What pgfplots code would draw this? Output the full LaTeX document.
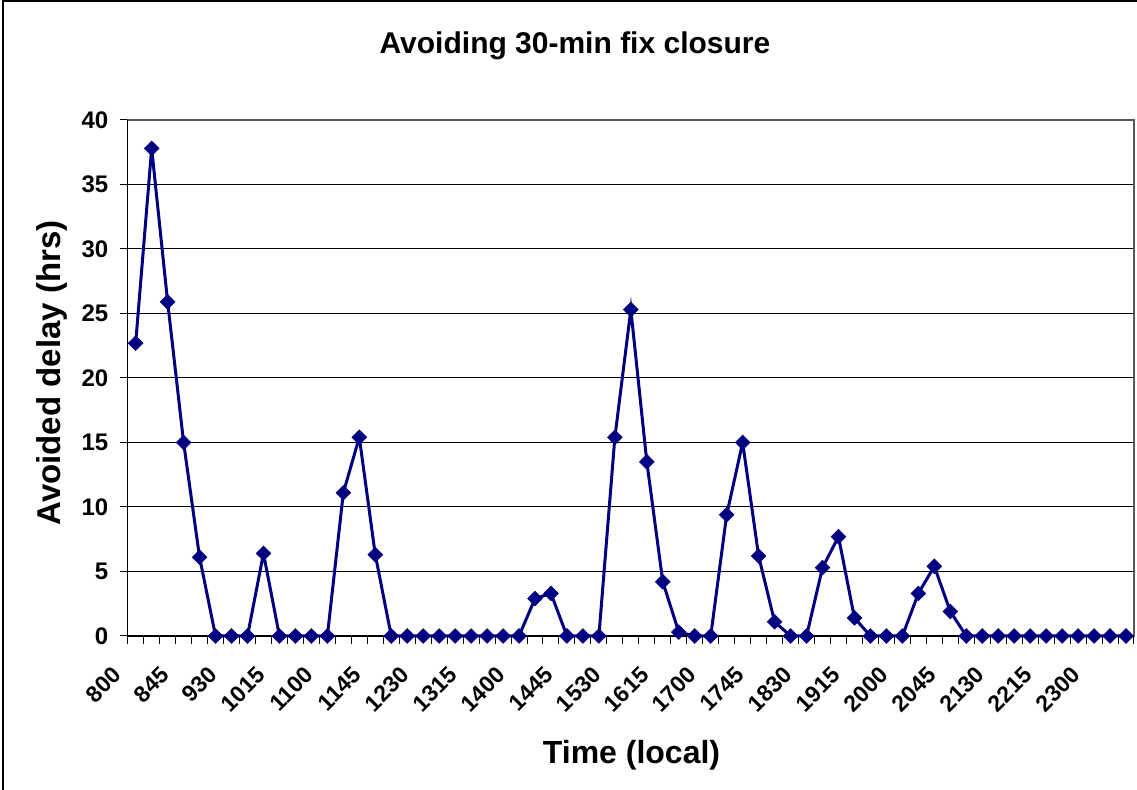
\documentclass[border=0pt]{standalone}
\usepackage{pgfplots}
\pgfplotsset{compat=1.18}
\usepackage{fontspec}
\setmainfont{Liberation Sans}
\definecolor{navyline}{RGB}{0,0,128}
\begin{document}
\begin{tikzpicture}
\useasboundingbox (0,0) rectangle (568.5pt,395pt);
\draw[black, line width=0.75pt] (1.5pt,0) -- (1.5pt,394.5pt) -- (568.5pt,394.5pt);
\begin{axis}[
  at={(63.85pt,77pt)}, anchor=south west,
  width=503.15pt, height=258pt, scale only axis,
  xmin=-0.5, xmax=62.5, ymin=0, ymax=40,
  xtick={0,3,...,60},
  xticklabels={800,845,930,1015,1100,1145,1230,1315,1400,1445,1530,1615,1700,1745,1830,1915,2000,2045,2130,2215,2300},
  minor xtick={-0.5,0.5,...,62.5},
  major x tick style={draw=none},
  minor x tick style={black, line width=0.5pt},
  minor tick length=4pt,
  ytick={0,5,...,40},
  major tick length=4pt,
  tick align=outside,
  y tick style={black, line width=0.5pt},
  xtick pos=bottom, ytick pos=left,
  ymajorgrids,
  grid style={black, line width=0.5pt},
  axis line style={draw=gray!70!black, line width=0.6pt},
  /pgf/number format/assume math mode=true,
  yticklabel style={font=\fontsize{12}{14}\selectfont\bfseries, anchor=east, inner sep=0pt, xshift=-5.5pt},
  xticklabel style={font=\fontsize{11.5}{13}\selectfont\bfseries, inner sep=0pt, xshift=-9pt, yshift=-13.5pt, rotate=45, anchor=east},
  clip=false,
]
\draw[black, line width=0.6pt] (axis cs:-0.5,40) -- (axis cs:-0.5,0) -- (axis cs:62.5,0);
\addplot[navyline, line width=1.5pt, mark=square*, mark size=2.6pt, mark options={rotate=45, solid, fill=navyline, draw=navyline, line width=0.3pt}]
coordinates {
(0,22.7) (1,37.8) (2,25.9) (3,15.0) (4,6.1) (5,0) (6,0) (7,0) (8,6.4) (9,0)
(10,0) (11,0) (12,0) (13,11.1) (14,15.4) (15,6.3) (16,0) (17,0) (18,0) (19,0)
(20,0) (21,0) (22,0) (23,0) (24,0) (25,2.9) (26,3.3) (27,0) (28,0) (29,0)
(30,15.4) (31,25.3) (32,13.5) (33,4.2) (34,0.3) (35,0) (36,0) (37,9.4) (38,15.0) (39,6.2)
(40,1.1) (41,0) (42,0) (43,5.3) (44,7.7) (45,1.4) (46,0) (47,0) (48,0) (49,3.3)
(50,5.4) (51,1.9) (52,0) (53,0) (54,0) (55,0) (56,0) (57,0) (58,0) (59,0)
(60,0) (61,0) (62,0)
};
\end{axis}
\node[anchor=base, font=\fontsize{15}{18}\selectfont\bfseries] at (287.5pt,368.35pt) {Avoiding 30-min fix closure};
\node[anchor=base, font=\fontsize{16}{19}\selectfont\bfseries] at (315.75pt,13.35pt) {Time (local)};
\node[anchor=base, rotate=90, font=\fontsize{16.5}{19}\selectfont\bfseries] at (30.35pt,208.5pt) {Avoided delay (hrs)};
\end{tikzpicture}
\end{document}
